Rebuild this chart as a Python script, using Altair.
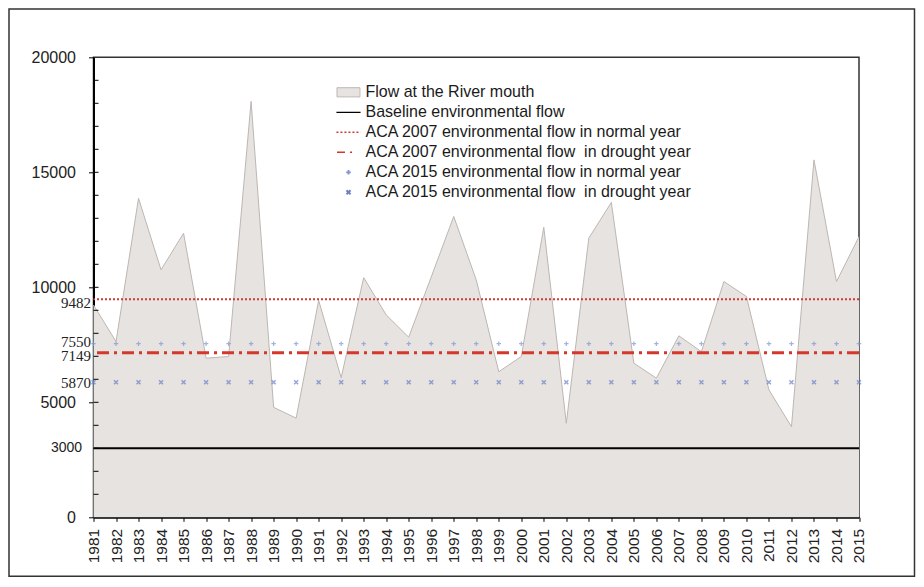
import altair as alt
import pandas as pd

# ---- data ----
years = list(range(1981, 2016))
flow = [9230, 7640, 13870, 10760, 12350, 6920, 6990, 18080, 4780, 4310,
        9430, 6070, 10420, 8800, 7830, 10450, 13080, 10320, 6330, 6990,
        12610, 4090, 12140, 13690, 6700, 6050, 7890, 7200, 10250, 9600,
        5540, 3940, 15540, 10250, 12200]

baseline_flow = 3000
aca2007_normal = 9482
aca2007_drought = 7149
aca2015_normal = 7550
aca2015_drought = 5870

serif_labels = [aca2015_drought, aca2007_drought, aca2015_normal, aca2007_normal]
sans_labels = [baseline_flow]
y_tick_values = [0, 5000, 10000, 15000, 20000]
minor_ticks = [v for v in range(1000, 20000, 1000)]

legend_names = [
    "Flow at the River mouth",
    "Baseline environmental flow",
    "ACA 2007 environmental flow in normal year",
    "ACA 2007 environmental flow\u00a0 in drought year",
    "ACA 2015 environmental flow in normal year",
    "ACA 2015 environmental flow\u00a0 in drought year",
]

AREA_FILL = "#e7e3e0"
AREA_LINE = "#bdb6b2"
RED_DOT = "#cf3b35"
RED_DASH = "#d4372b"
BLUE_PLUS = "#7d93d3"
BLUE_X = "#6a80c6"

PLUS = "M-1,0H1M0,-1V1"
XMARK = "M-1,-1L1,1M-1,1L1,-1"

flow_df = pd.DataFrame({"year": years, "flow": flow})
plus_df = pd.DataFrame({"year": years, "v": [aca2015_normal] * len(years)})
x_df = pd.DataFrame({"year": years, "v": [aca2015_drought] * len(years)})

xscale = alt.Scale(domain=[1981, 2015], nice=False, zero=False)
yscale = alt.Scale(domain=[0, 20000], nice=False)

x_axis = alt.Axis(values=years, format="d", labelAngle=270, tickSize=4,
                  labelFontSize=15.5, labelFont="Liberation Sans", labelColor="#222",
                  labelPadding=7, title=None, grid=False, labelFlush=False,
                  labelOverlap=False, labelSeparation=0, domainColor="black",
                  domainWidth=2, tickColor="black", tickWidth=1)
y_axis = alt.Axis(values=y_tick_values, format="d", tickSize=5, labelFontSize=16,
                  labelFont="Liberation Sans", labelColor="#222", labelPadding=13,
                  title=None, grid=False, labelFlush=False, labelOverlap=False,
                  domainColor="black", domainWidth=2, tickColor="black", tickWidth=1)

area = alt.Chart(flow_df).mark_area(color=AREA_FILL).encode(
    x=alt.X("year:Q", scale=xscale, axis=x_axis),
    y=alt.Y("flow:Q", scale=yscale, axis=y_axis),
)
outline = alt.Chart(flow_df).mark_line(color=AREA_LINE, strokeWidth=1).encode(
    x=alt.X("year:Q", axis=x_axis), y=alt.Y("flow:Q", axis=y_axis))

minor = alt.Chart(pd.DataFrame({"v": minor_ticks})).mark_rule(
    color="black", strokeWidth=1).encode(
    y=alt.Y("v:Q", axis=y_axis), x=alt.value(0), x2=alt.value(5))

base_rule = alt.Chart(pd.DataFrame({"v": [baseline_flow]})).mark_rule(
    color="black", strokeWidth=2).encode(y=alt.Y("v:Q", axis=y_axis))
dot_rule = alt.Chart(pd.DataFrame({"v": [aca2007_normal]})).mark_rule(
    color=RED_DOT, strokeWidth=2, strokeDash=[2, 2]).encode(y=alt.Y("v:Q", axis=y_axis))
dash_rule = alt.Chart(pd.DataFrame({"v": [aca2007_drought]})).mark_rule(
    color=RED_DASH, strokeWidth=3, strokeDash=[12, 5, 3, 5]).encode(y=alt.Y("v:Q", axis=y_axis))

plus_pts = alt.Chart(plus_df).mark_point(
    shape=PLUS, size=20, stroke=BLUE_PLUS, strokeWidth=1.2, filled=False).encode(
    x=alt.X("year:Q", axis=x_axis), y=alt.Y("v:Q", axis=y_axis))
x_pts = alt.Chart(x_df).mark_point(
    shape=XMARK, size=16, stroke=BLUE_X, strokeWidth=1.5, filled=False).encode(
    x=alt.X("year:Q", axis=x_axis), y=alt.Y("v:Q", axis=y_axis))

# small vertical nudges of the custom value labels, as in the reference
label_dy = {aca2015_drought: 0.5, aca2007_drought: 3, aca2015_normal: -2, aca2007_normal: 4}
serif_layers = []
for val in serif_labels:
    serif_layers.append(
        alt.Chart(pd.DataFrame({"v": [val]})).mark_text(
            align="right", baseline="middle", font="Liberation Serif",
            fontSize=15, color="#222", dy=label_dy[val]).encode(
            y=alt.Y("v:Q", axis=y_axis), x=alt.value(-2.5),
            text=alt.Text("v:Q", format="d"))
    )
sans_txt = alt.Chart(pd.DataFrame({"v": sans_labels})).mark_text(
    align="right", baseline="middle", font="Liberation Sans",
    fontSize=14, color="#222").encode(
    y=alt.Y("v:Q", axis=y_axis), x=alt.value(-11.5), text=alt.Text("v:Q", format="d"))

leg = alt.Legend(orient="none", legendX=247, legendY=27, title=None,
                 labelFont="Liberation Sans", labelFontSize=16, labelColor="#1a1a1a",
                 rowPadding=4, labelOffset=9, symbolOpacity=1, padding=0,
                 symbolSize=132, labelLimit=500)
leg_shapes = ["M-2,-0.8H2V0.8H-2Z", "M-2.1,0H2.1", "M-2.1,0H2.1", "M-2,0H0.8",
              "M-0.4,0H0.4M0,-0.4V0.4", "M-0.35,-0.35L0.35,0.35M-0.35,0.35L0.35,-0.35"]
leg_fill = [AREA_FILL, "transparent", "transparent", "transparent", "transparent", "transparent"]
leg_stroke = [AREA_LINE, "#000000", RED_DOT, RED_DASH, BLUE_PLUS, BLUE_X]
leg_dash = [[1, 0], [1, 0], [2, 2], [8, 5, 2, 5], [1, 0], [1, 0]]
leg_width = [1, 2, 2, 3, 1.2, 1.5]

legend_layer = alt.Chart(pd.DataFrame({"series": legend_names})).mark_point(
    opacity=0).encode(
    x=alt.value(0), y=alt.value(0),
    fill=alt.Fill("series:N", scale=alt.Scale(domain=legend_names, range=leg_fill), legend=leg),
    stroke=alt.Stroke("series:N", scale=alt.Scale(domain=legend_names, range=leg_stroke), legend=leg),
    shape=alt.Shape("series:N", scale=alt.Scale(domain=legend_names, range=leg_shapes), legend=leg),
    strokeDash=alt.StrokeDash("series:N", scale=alt.Scale(domain=legend_names, range=leg_dash), legend=leg),
    strokeWidth=alt.StrokeWidth("series:N", scale=alt.Scale(domain=legend_names, range=leg_width), legend=leg),
)

frame = alt.Chart(pd.DataFrame({"v": [0]})).mark_rect(
    fill="white", fillOpacity=0, stroke="#333", strokeWidth=1.5).encode(
    x=alt.value(-84.5), x2=alt.value(821), y=alt.value(-48.3), y2=alt.value(519))

chart = alt.layer(
    area, outline, minor, base_rule, dot_rule, dash_rule, plus_pts, x_pts,
    *serif_layers, sans_txt, legend_layer, frame
).properties(
    width=765.5, height=460,
    autosize=alt.AutoSizeParams(type="none"),
    padding={"left": 85.5, "top": 49.3, "right": 57, "bottom": 60},
).configure_view(stroke="#333", strokeWidth=1.5).configure_axisX(
    labelOverlap=False, labelSeparation=0
)

chart.save("out.html", embed_options={"renderer": "svg", "actions": False})
